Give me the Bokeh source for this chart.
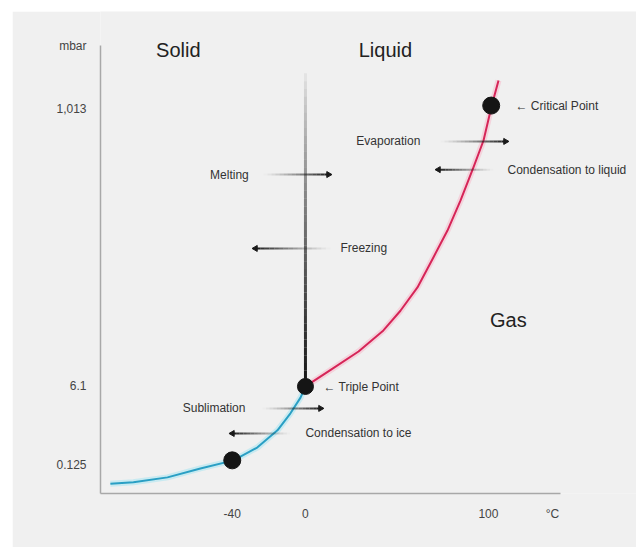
import math
import numpy as np
from bokeh.plotting import figure
from bokeh.models import Range1d, FixedTicker, Label, ColumnDataSource
from bokeh.core.properties import value
from bokeh.embed import file_html
from bokeh.resources import INLINE

# ---------------- data (temperature in °C, pressure as schematic position) ----------------
x_ticks = [-40, 0, 100, 135]
x_tick_labels = ["-40", "0", "100", "°C"]
y_ticks = [6.4, 24.0, 85.8, 100]
y_tick_labels = ["0.125", "6.1", "1,013", "mbar"]

sub_T = [-106.6, -94.0, -75.4, -57.4, -39.3, -26.2, -15.3, -8.2, -2.7, 0.0]
sub_P = [2.2, 2.5, 3.6, 5.6, 7.4, 10.3, 14.1, 17.9, 21.4, 23.9]

vap_T = [0.0, 14.2, 29.0, 42.6, 51.9, 61.2, 69.9, 77.6, 84.7, 91.8, 97.3, 101.8, 105.5]
vap_P = [23.9, 27.7, 31.7, 36.4, 40.8, 46.0, 52.7, 58.7, 65.4, 72.8, 78.8, 86.6, 92.2]

melt_T = [0.0, 0.0]
melt_P = [23.9, 93.8]

point_T = [-40, 0, 101.5]
point_P = [7.4, 23.9, 86.6]
point_size = [17, 16, 17]

arrow_tail_T = [-23.0, 13.7, 73.8, 102.7, -23.5, -8.2]
arrow_head_T = [12.6, -27.3, 109.3, 72.7, 8.2, -39.9]
arrow_P = [71.2, 54.7, 78.6, 72.3, 19.0, 13.4]

note_text = ["Melting", "Freezing", "Evaporation", "Condensation to liquid",
             "Sublimation", "Condensation to ice", "\u2190 Triple Point", "\u2190 Critical Point"]
note_T = [-31.0, 19.1, 62.8, 110.4, -32.8, 0.0, 9.8, 114.8]
note_P = [71.2, 54.7, 78.6, 72.3, 19.0, 13.4, 23.7, 86.6]
note_align = ["right", "left", "right", "left", "right", "left", "left", "left"]

phase_text = ["Solid", "Liquid", "Gas"]
phase_T = [-69.5, 43.7, 110.9]
phase_P = [98.9, 98.9, 38.8]

BG = "#f0f0f0"
FONT = "Liberation Sans"

p = figure(width=624, height=536,
           x_range=Range1d(-112.0, 180.9), y_range=Range1d(0, 107.6),
           output_backend="svg", toolbar_location=None,
           min_border_left=88, min_border_right=0, min_border_top=0, min_border_bottom=54)
p.margin = (11, 0, 0, 12)
p.background_fill_color = BG
p.border_fill_color = BG
p.outline_line_color = None
p.grid.visible = False

for ax, ticks, labels, bounds, standoff in (
        (p.xaxis[0], x_ticks, x_tick_labels, (-112.0, 139.3), 7),
        (p.yaxis[0], y_ticks, y_tick_labels, (0, 100), 8)):
    ax.ticker = FixedTicker(ticks=ticks)
    ax.major_label_overrides = {t: l for t, l in zip(ticks, labels)}
    ax.bounds = bounds
    ax.axis_line_color = "#a8a8a8"
    ax.axis_line_width = 1.5
    ax.major_tick_line_color = None
    ax.minor_tick_line_color = None
    ax.major_label_text_font = FONT
    ax.major_label_text_font_size = "12px"
    ax.major_label_text_color = "#444444"
    ax.major_label_standoff = standoff

# sublimation curve (blue) with halo
p.line(sub_T, sub_P, line_color="#9fe3f2", line_width=6, line_alpha=0.5, line_join="round")
p.line(sub_T, sub_P, line_color="#2a9fc4", line_width=2, line_join="round")
# vaporisation curve (red) with halo
p.line(vap_T, vap_P, line_color="#f7b6c8", line_width=6, line_alpha=0.5, line_join="round")
p.line(vap_T, vap_P, line_color="#d62558", line_width=2, line_join="round")

# melting line with gradient (light at the top, dark at the triple point)
n = 40
ys = np.linspace(melt_P[1], melt_P[0], n + 1)
seg = ColumnDataSource(dict(
    x0=[melt_T[0]] * n, x1=[melt_T[1]] * n,
    y0=ys[:-1], y1=ys[1:],
    a=[min(1.0, 0.03 + ((i + 0.5) / n) ** 0.8) for i in range(n)]))
p.segment("x0", "y0", "x1", "y1", source=seg, line_color="#1a1a1a", line_width=3, line_alpha="a")

# arrows with gradient shafts
ax0, ay0, ax1, ay1, aa = [], [], [], [], []
m = 16
for t0, t1, yy in zip(arrow_tail_T, arrow_head_T, arrow_P):
    xs = np.linspace(t0, t1, m + 1)
    for i in range(m):
        ax0.append(xs[i]); ax1.append(xs[i + 1]); ay0.append(yy); ay1.append(yy)
        aa.append(min(1.0, ((i + 0.5) / m) ** 1.2))
p.segment(ax0, ay0, ax1, ay1, line_color="#1a1a1a", line_width=2, line_alpha=aa)
angles = [-math.pi / 2 if h > t else math.pi / 2 for t, h in zip(arrow_tail_T, arrow_head_T)]
p.scatter(arrow_head_T, arrow_P, marker="triangle", angle=angles, size=6,
          fill_color="#1a1a1a", line_color="#1a1a1a")

# key points
p.scatter(point_T, point_P, size=point_size, fill_color="#151515", line_color="#151515")

# notes
p.text(note_T, note_P, text=note_text, text_align=note_align, text_baseline="middle",
       text_font=value(FONT), text_font_size=value("12px"), text_color="#333333")
p.text(phase_T, phase_P, text=phase_text, text_align="center", text_baseline="middle",
       text_font=value(FONT), text_font_size=value("20px"), text_color="#222222")

# axis titles
p.add_layout(Label(x=-142.0, y=53.8, text="Pressure", angle=math.pi / 2,
                   text_align="center", text_baseline="middle",
                   text_font=FONT, text_font_size="11.5px", text_color="#444444"))
p.add_layout(Label(x=8.2, y=-7.8, text="Temperature",
                   text_align="center", text_baseline="middle",
                   text_font=FONT, text_font_size="11.5px", text_color="#444444"))

open("out.html", "w").write(file_html(p, INLINE))
